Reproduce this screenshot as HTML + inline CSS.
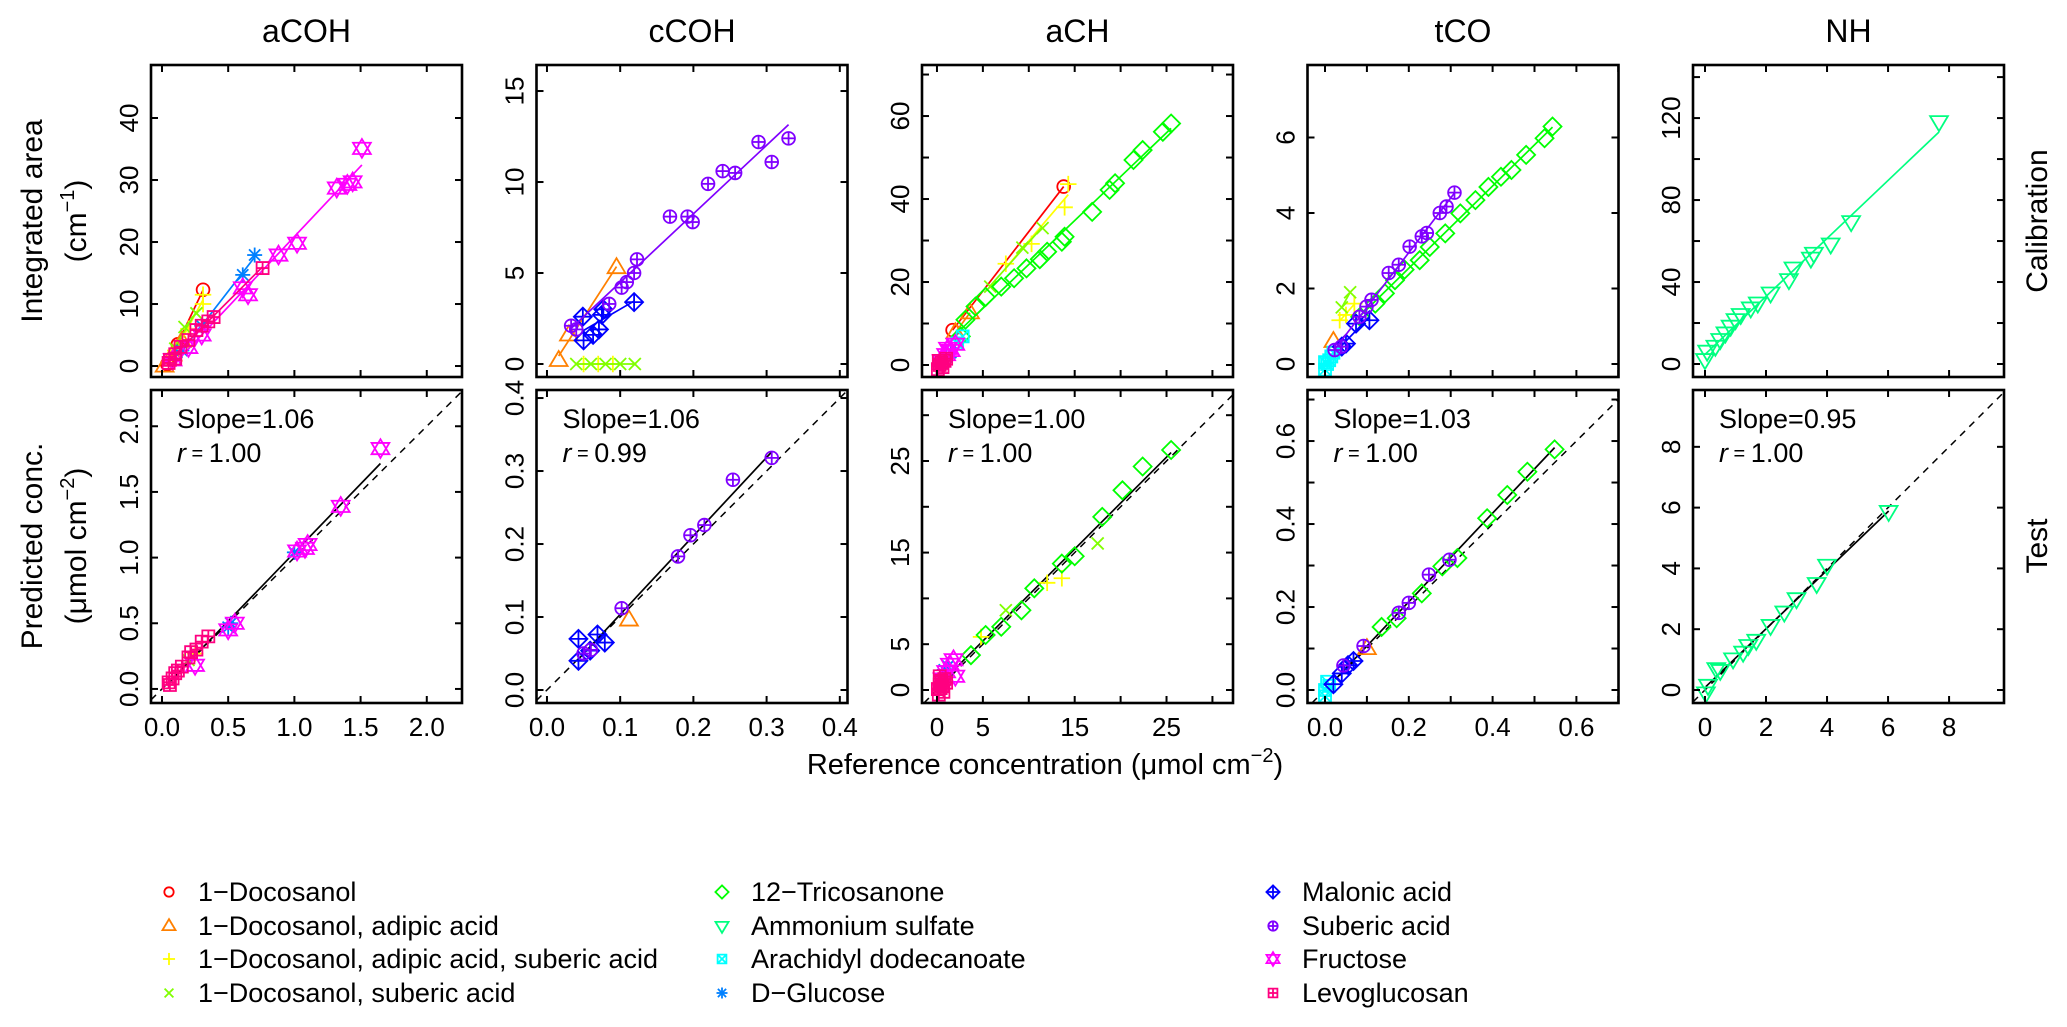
<!DOCTYPE html>
<html><head><meta charset="utf-8"><title>Calibration and test</title>
<style>
html,body{margin:0;padding:0;background:#fff;}
svg{display:block;font-family:"Liberation Sans",Arial,sans-serif;}
</style></head>
<body>
<svg id="fig" xmlns="http://www.w3.org/2000/svg" width="2067" height="1027" viewBox="0 0 2067 1027">
<rect x="0" y="0" width="2067" height="1027" fill="#fff"/>
</svg>
<script>
// ---------- series metadata ----------
const seriesNames = ["1\u2212Docosanol","1\u2212Docosanol, adipic acid","1\u2212Docosanol, adipic acid, suberic acid","1\u2212Docosanol, suberic acid","12\u2212Tricosanone","Ammonium sulfate","Arachidyl dodecanoate","D\u2212Glucose","Malonic acid","Suberic acid","Fructose","Levoglucosan"];
const seriesColors = ["#FF0000","#FF8000","#FFFF00","#80FF00","#00FF00","#00FF80","#00FFFF","#0080FF","#0000FF","#8000FF","#FF00FF","#FF0080"];
const columnTitles = ["aCOH","cCOH","aCH","tCO","NH"];
const slopeLabels = ["1.06","1.06","1.00","1.03","0.95"];
const rLabels = ["1.00","0.99","1.00","1.00","1.00"];

// ---------- axis ticks ----------
const xTicks = [[0,0.5,1,1.5,2],[0,0.1,0.2,0.3,0.4],[0,5,10,15,20,25,30],[0,0.1,0.2,0.3,0.4,0.5,0.6,0.7],[0,2,4,6,8]];
const xTickLabels = [["0.0","0.5","1.0","1.5","2.0"],["0.0","0.1","0.2","0.3","0.4"],["0","5","","15","","25",""],["0.0","","0.2","","0.4","","0.6",""],["0","2","4","6","8"]];
const calYTicks = [[0,10,20,30,40],[0,5,10,15],[0,10,20,30,40,50,60,70],[0,2,4,6],[0,20,40,60,80,100,120,140]];
const calYTickLabels = [["0","10","20","30","40"],["0","5","10","15"],["0","","20","","40","","60",""],["0","2","4","6"],["0","","40","","80","","120",""]];
const testYTicks = [[0,0.5,1,1.5,2],[0,0.1,0.2,0.3,0.4],[0,5,10,15,20,25,30],[0,0.1,0.2,0.3,0.4,0.5,0.6,0.7],[0,2,4,6,8]];
const testYTickLabels = [["0.0","0.5","1.0","1.5","2.0"],["0.0","0.1","0.2","0.3","0.4"],["0","5","","15","","25",""],["0.0","","0.2","","0.4","","0.6",""],["0","2","4","6","8"]];

// ---------- axis domains ----------
const xDomains = [[-0.083,2.266],[-0.0143,0.4105],[-1.63,32.24],[-0.0418,0.7005],[-0.393,9.80]];
const calYDomains = [[-1.77,48.55],[-0.714,16.43],[-2.89,72.3],[-0.344,7.92],[-6.34,145.9]];
const testYDomains = [[-0.107,2.276],[-0.0178,0.411],[-1.42,32.75],[-0.0313,0.723],[-0.428,9.87]];

// ---------- calibration data: aCOH ----------
const acohCalDocosanolX = [0.04,0.12,0.31];
const acohCalDocosanolY = [0.3,3.5,12.3];
const acohCalAdipicX = [0.02,0.08,0.15];
const acohCalAdipicY = [0.0,1.8,4.0];
const acohCalAdipSubX = [0.1,0.2,0.31,0.31];
const acohCalAdipSubY = [2.5,6.0,10.0,11.5];
const acohCalSubericMixX = [0.1,0.17,0.26];
const acohCalSubericMixY = [2.8,6.3,8.5];
const acohCalGlucoseX = [0.15,0.3,0.61,0.70];
const acohCalGlucoseY = [2.5,6.5,14.7,17.9];
const acohCalFructoseX = [0.08,0.2,0.3,0.61,0.65,0.88,1.02,1.32,1.40,1.44,1.51];
const acohCalFructoseY = [1.0,3.0,5.0,12.6,11.5,17.9,19.8,28.7,29.3,29.7,35.1];
const acohCalLevoX = [0.05,0.06,0.1,0.1,0.14,0.2,0.26,0.3,0.35,0.39,0.76];
const acohCalLevoY = [0.5,1.0,1.9,1.2,3.1,4.2,5.8,6.5,7.2,7.9,15.8];
// ---------- calibration data: cCOH ----------
const ccohCalAdipicX = [0.016,0.030,0.095];
const ccohCalAdipicY = [0.2,1.6,5.3];
const ccohCalAdipSubX = [0.05,0.07,0.09];
const ccohCalAdipSubY = [0,0,0];
const ccohCalSubericMixX = [0.04,0.06,0.08,0.10,0.12];
const ccohCalSubericMixY = [0,0,0,0,0];
const ccohCalMalonicX = [0.119,0.077,0.075,0.049,0.071,0.063,0.05];
const ccohCalMalonicY = [3.4,3.0,2.7,2.6,1.9,1.6,1.3];
const ccohCalSubericX = [0.033,0.040,0.085,0.102,0.109,0.119,0.123,0.168,0.192,0.199,0.220,0.240,0.257,0.289,0.307,0.330];
const ccohCalSubericY = [2.1,1.9,3.3,4.2,4.5,5.0,5.75,8.1,8.1,7.8,9.9,10.6,10.5,12.2,11.1,12.4];
// ---------- calibration data: aCH ----------
const achCalDocosanolX = [1.7,13.8];
const achCalDocosanolY = [8.4,43];
const achCalAdipicX = [2.0,3.6];
const achCalAdipicY = [7.8,12.6];
const achCalAdipSubX = [7.5,10.3,13.9,14.3];
const achCalAdipSubY = [24.4,29.2,38,43.6];
const achCalSubericMixX = [5.8,9.3,11.5];
const achCalSubericMixY = [18.9,28.3,33];
const achCalTricosanoneX = [2.6,3.1,4.2,5.3,7.0,8.4,9.75,11.2,12.0,13.6,13.9,16.9,18.8,19.4,21.4,22.4,24.6,25.5];
const achCalTricosanoneY = [6.9,10.9,14.1,16.4,18.9,20.9,23.3,25.5,27.3,29.7,30.9,36.9,42.2,43.8,49.4,51.8,56.2,58.2];
const achCalArachidylX = [2.2,2.8];
const achCalArachidylY = [5.2,6.9];
const achCalGlucoseX = [1.0,1.5];
const achCalGlucoseY = [2,3];
const achCalFructoseX = [0.5,1.0,1.2,1.5,2.0];
const achCalFructoseY = [1,2.5,4,3.5,5];
const achCalLevoX = [0.1,0.2,0.3,0.5,0.6,0.8,1.0];
const achCalLevoY = [-1,1.0,0,0.5,-0.5,1,1.5];
// ---------- calibration data: tCO ----------
const tcoCalAdipicX = [0.02];
const tcoCalAdipicY = [0.6];
const tcoCalAdipSubX = [0.035,0.05,0.07];
const tcoCalAdipSubY = [1.16,1.3,1.6];
const tcoCalSubericMixX = [0.04,0.06];
const tcoCalSubericMixY = [1.5,1.9];
const tcoCalTricosanoneX = [0.084,0.12,0.143,0.167,0.19,0.226,0.25,0.287,0.323,0.359,0.39,0.42,0.445,0.48,0.524,0.543];
const tcoCalTricosanoneY = [1.25,1.6,1.87,2.22,2.5,2.75,3.1,3.46,3.99,4.34,4.69,4.96,5.14,5.54,5.98,6.29];
const tcoCalArachidylX = [0.0,0.0,0.005,0.01,0.015,0.02];
const tcoCalArachidylY = [-0.15,0.05,0,0.1,0.2,0.3];
const tcoCalMalonicX = [0.04,0.05,0.074,0.106];
const tcoCalMalonicY = [0.46,0.54,1.07,1.16];
const tcoCalSubericX = [0.023,0.039,0.082,0.099,0.111,0.152,0.176,0.202,0.231,0.243,0.274,0.29,0.309];
const tcoCalSubericY = [0.37,0.46,1.25,1.52,1.7,2.41,2.63,3.11,3.38,3.47,4.0,4.17,4.54];
// ---------- calibration data: NH ----------
const nhCalAmmoniumX = [0.0,0.07,0.34,0.5,0.67,0.84,1.0,1.17,1.5,1.73,2.15,2.75,2.9,3.47,3.57,4.12,4.79,7.67];
const nhCalAmmoniumY = [2.1,6.2,8.6,11.9,15.1,18.4,21.6,24.1,27.3,29.7,34.6,41.1,46.8,51.6,54.0,58.5,69.4,118.2];

// ---------- test data: aCOH ----------
const acohTestAdipSubX = [0.25];
const acohTestAdipSubY = [0.27];
const acohTestSubericMixX = [0.2];
const acohTestSubericMixY = [0.22];
const acohTestGlucoseX = [0.5,0.52,1.0];
const acohTestGlucoseY = [0.47,0.5,1.04];
const acohTestFructoseX = [0.25,0.5,0.55,1.02,1.08,1.1,1.35,1.65];
const acohTestFructoseY = [0.18,0.45,0.5,1.05,1.07,1.1,1.39,1.83];
const acohTestLevoX = [0.05,0.06,0.08,0.1,0.12,0.15,0.2,0.22,0.26,0.3,0.35];
const acohTestLevoY = [0.05,0.03,0.08,0.12,0.14,0.17,0.24,0.28,0.3,0.36,0.4];
// ---------- test data: cCOH ----------
const ccohTestAdipicX = [0.112];
const ccohTestAdipicY = [0.096];
const ccohTestMalonicX = [0.043,0.043,0.059,0.069,0.079];
const ccohTestMalonicY = [0.070,0.040,0.054,0.076,0.065];
const ccohTestSubericX = [0.05,0.06,0.102,0.179,0.196,0.215,0.254,0.307];
const ccohTestSubericY = [0.05,0.055,0.112,0.183,0.212,0.226,0.288,0.318];
// ---------- test data: aCH ----------
const achTestAdipSubX = [4.8,12.0,13.6];
const achTestAdipSubY = [5.8,11.7,12.2];
const achTestSubericMixX = [7.5,17.5];
const achTestSubericMixY = [8.7,16.0];
const achTestTricosanoneX = [3.7,5.3,7.0,9.2,10.6,13.6,15.0,18.0,20.2,22.4,25.5];
const achTestTricosanoneY = [3.8,6.0,6.9,8.7,11.1,13.8,14.6,18.9,21.8,24.4,26.2];
const achTestGlucoseX = [0.8,1.2];
const achTestGlucoseY = [2.2,2.6];
const achTestFructoseX = [0.6,1.0,1.4,1.8,2.0];
const achTestFructoseY = [1.2,2.0,2.8,3.3,1.5];
const achTestLevoX = [0.1,0.2,0.3,0.4,0.5,0.6,0.8,1.0,0.3,0.7];
const achTestLevoY = [0.1,-0.5,0.6,0.2,1.0,0.4,1.2,0.8,1.5,-0.2];
// ---------- test data: tCO ----------
const tcoTestAdipicX = [0.1];
const tcoTestAdipicY = [0.1];
const tcoTestTricosanoneX = [0.135,0.171,0.231,0.28,0.316,0.387,0.435,0.483,0.548];
const tcoTestTricosanoneY = [0.152,0.173,0.233,0.298,0.318,0.414,0.47,0.526,0.58];
const tcoTestArachidylX = [0.0,0.005,0.01,0.0];
const tcoTestArachidylY = [0.0,0.02,0.01,-0.015];
const tcoTestMalonicX = [0.02,0.04,0.055,0.068];
const tcoTestMalonicY = [0.014,0.04,0.06,0.07];
const tcoTestSubericX = [0.044,0.092,0.176,0.20,0.248,0.297];
const tcoTestSubericY = [0.059,0.106,0.186,0.21,0.278,0.314];
// ---------- test data: NH ----------
const nhTestAmmoniumX = [0.03,0.1,0.37,0.5,0.92,1.25,1.42,1.68,2.15,2.6,3.0,3.66,4.0,6.02];
const nhTestAmmoniumY = [-0.1,0.15,0.7,0.64,1.02,1.24,1.46,1.63,2.12,2.56,3.0,3.5,4.1,5.87];

// ---------- registry: [series index, xs, ys] ----------
const calData = [
 [[0,acohCalDocosanolX,acohCalDocosanolY],[1,acohCalAdipicX,acohCalAdipicY],[2,acohCalAdipSubX,acohCalAdipSubY],[3,acohCalSubericMixX,acohCalSubericMixY],[7,acohCalGlucoseX,acohCalGlucoseY],[10,acohCalFructoseX,acohCalFructoseY],[11,acohCalLevoX,acohCalLevoY]],
 [[1,ccohCalAdipicX,ccohCalAdipicY],[2,ccohCalAdipSubX,ccohCalAdipSubY],[3,ccohCalSubericMixX,ccohCalSubericMixY],[8,ccohCalMalonicX,ccohCalMalonicY],[9,ccohCalSubericX,ccohCalSubericY]],
 [[0,achCalDocosanolX,achCalDocosanolY],[1,achCalAdipicX,achCalAdipicY],[2,achCalAdipSubX,achCalAdipSubY],[3,achCalSubericMixX,achCalSubericMixY],[4,achCalTricosanoneX,achCalTricosanoneY],[6,achCalArachidylX,achCalArachidylY],[7,achCalGlucoseX,achCalGlucoseY],[10,achCalFructoseX,achCalFructoseY],[11,achCalLevoX,achCalLevoY]],
 [[1,tcoCalAdipicX,tcoCalAdipicY],[2,tcoCalAdipSubX,tcoCalAdipSubY],[3,tcoCalSubericMixX,tcoCalSubericMixY],[4,tcoCalTricosanoneX,tcoCalTricosanoneY],[6,tcoCalArachidylX,tcoCalArachidylY],[8,tcoCalMalonicX,tcoCalMalonicY],[9,tcoCalSubericX,tcoCalSubericY]],
 [[5,nhCalAmmoniumX,nhCalAmmoniumY]]
];
const testData = [
 [[2,acohTestAdipSubX,acohTestAdipSubY],[3,acohTestSubericMixX,acohTestSubericMixY],[7,acohTestGlucoseX,acohTestGlucoseY],[10,acohTestFructoseX,acohTestFructoseY],[11,acohTestLevoX,acohTestLevoY]],
 [[1,ccohTestAdipicX,ccohTestAdipicY],[8,ccohTestMalonicX,ccohTestMalonicY],[9,ccohTestSubericX,ccohTestSubericY]],
 [[2,achTestAdipSubX,achTestAdipSubY],[3,achTestSubericMixX,achTestSubericMixY],[4,achTestTricosanoneX,achTestTricosanoneY],[7,achTestGlucoseX,achTestGlucoseY],[10,achTestFructoseX,achTestFructoseY],[11,achTestLevoX,achTestLevoY]],
 [[1,tcoTestAdipicX,tcoTestAdipicY],[4,tcoTestTricosanoneX,tcoTestTricosanoneY],[6,tcoTestArachidylX,tcoTestArachidylY],[8,tcoTestMalonicX,tcoTestMalonicY],[9,tcoTestSubericX,tcoTestSubericY]],
 [[5,nhTestAmmoniumX,nhTestAmmoniumY]]
];

// ---------- layout ----------
const NS = "http://www.w3.org/2000/svg";
const svg = document.getElementById("fig");
const colLeft = [151,536.5,922,1307.5,1693];
const PW = 311;
const rowTop = [65,390];
const rowBottom = [377,703];

function mk(tag, attrs, parent){
  const e = document.createElementNS(NS, tag);
  for (const k in attrs) e.setAttribute(k, attrs[k]);
  (parent||svg).appendChild(e);
  return e;
}
function scale(d, a, b){ return v => a + (v - d[0]) / (d[1] - d[0]) * (b - a); }

function marker(g, pch, cx, cy, col, r){
  const st = {fill:"none", stroke:col, "stroke-width":1.8};
  const line = (x1,y1,x2,y2) => mk("line", Object.assign({x1:cx+x1,y1:cy+y1,x2:cx+x2,y2:cy+y2}, st), g);
  const poly = pts => mk("polygon", Object.assign({points: pts.map(p => (cx+p[0])+","+(cy+p[1])).join(" ")}, st), g);
  const t = r*1.25;
  switch(pch){
    case 1: mk("circle", Object.assign({cx:cx, cy:cy, r:r*0.85}, st), g); break;
    case 2: poly([[0,-t],[t*0.95,t*0.6],[-t*0.95,t*0.6]]); break;
    case 3: line(-r*1.1,0,r*1.1,0); line(0,-r*1.1,0,r*1.1); break;
    case 4: line(-r*0.8,-r*0.8,r*0.8,r*0.8); line(-r*0.8,r*0.8,r*0.8,-r*0.8); break;
    case 5: poly([[0,-r*1.2],[r*1.2,0],[0,r*1.2],[-r*1.2,0]]); break;
    case 6: poly([[0,t],[t*0.95,-t*0.6],[-t*0.95,-t*0.6]]); break;
    case 7: poly([[-r*0.8,-r*0.8],[r*0.8,-r*0.8],[r*0.8,r*0.8],[-r*0.8,r*0.8]]); line(-r*0.8,-r*0.8,r*0.8,r*0.8); line(-r*0.8,r*0.8,r*0.8,-r*0.8); break;
    case 8: line(-r,0,r,0); line(0,-r,0,r); line(-r*0.75,-r*0.75,r*0.75,r*0.75); line(-r*0.75,r*0.75,r*0.75,-r*0.75); break;
    case 9: poly([[0,-r*1.2],[r*1.2,0],[0,r*1.2],[-r*1.2,0]]); line(-r*1.2,0,r*1.2,0); line(0,-r*1.2,0,r*1.2); break;
    case 10: mk("circle", Object.assign({cx:cx, cy:cy, r:r*0.85}, st), g); line(-r*0.85,0,r*0.85,0); line(0,-r*0.85,0,r*0.85); break;
    case 11: poly([[0,-t],[t*0.95,t*0.6],[-t*0.95,t*0.6]]); poly([[0,t],[t*0.95,-t*0.6],[-t*0.95,-t*0.6]]); break;
    case 12: poly([[-r*0.8,-r*0.8],[r*0.8,-r*0.8],[r*0.8,r*0.8],[-r*0.8,r*0.8]]); line(-r*0.8,0,r*0.8,0); line(0,-r*0.8,0,r*0.8); break;
  }
}
function fit(xs, ys){
  const n = xs.length; let mx=0,my=0; for(let i=0;i<n;i++){mx+=xs[i];my+=ys[i];} mx/=n; my/=n;
  let sxy=0,sxx=0; for(let i=0;i<n;i++){sxy+=(xs[i]-mx)*(ys[i]-my); sxx+=(xs[i]-mx)*(xs[i]-mx);}
  const b = sxx>0 ? sxy/sxx : 0; return [my - b*mx, b];
}

// column titles
columnTitles.forEach((t,c) => {
  const e = mk("text", {x: colLeft[c]+PW/2, y: 42, "text-anchor":"middle", "font-size":32, fill:"#000"});
  
  
  e.textContent = t;
});

for (let row=0; row<2; row++){
  for (let c=0; c<5; c++){
    const L = colLeft[c], R = L+PW, T = rowTop[row], B = rowBottom[row];
    const xs = scale(xDomains[c], L, R);
    const yd = row===0 ? calYDomains[c] : testYDomains[c];
    const ys = scale(yd, B, T);
    const g = mk("g", {});
    
    
    const cid = "clip"+row+"_"+c;
    const cp = mk("clipPath", {id:cid}, g);
    mk("rect", {x:L, y:T, width:PW, height:B-T}, cp);
    const plot = mk("g", {"clip-path":"url(#"+cid+")"}, g);
    const data = row===0 ? calData[c] : testData[c];

    if (row===1){
      const lo = Math.max(xDomains[c][0], yd[0]), hi = Math.min(xDomains[c][1], yd[1]);
      const dl = mk("line", {x1:xs(lo), y1:ys(lo), x2:xs(hi*1.1), y2:ys(hi*1.1), stroke:"#000", "stroke-width":1.5, "stroke-dasharray":"7,6"}, plot);
      
      
      let ax=[], ay=[];
      data.forEach(s => { ax = ax.concat(s[1]); ay = ay.concat(s[2]); });
      const f = fit(ax, ay);
      const x0 = Math.min.apply(null, ax), x1 = Math.max.apply(null, ax);
      const rl = mk("line", {x1:xs(x0), y1:ys(f[0]+f[1]*x0), x2:xs(x1), y2:ys(f[0]+f[1]*x1), stroke:"#000", "stroke-width":1.7}, plot);
      
      
    }
    data.forEach(s => {
      const idx = s[0], X = s[1], Y = s[2], col = seriesColors[idx];
      const sg = mk("g", {}, plot);
      
      
      if (row===0 && X.length > 1){
        const f = fit(X, Y);
        const x0 = Math.min.apply(null, X), x1 = Math.max.apply(null, X);
        const fl = mk("line", {x1:xs(x0), y1:ys(f[0]+f[1]*x0), x2:xs(x1), y2:ys(f[0]+f[1]*x1), stroke:col, "stroke-width":1.7}, sg);
        
        
      }
      for (let i=0;i<X.length;i++){
        const pg = mk("g", {}, sg);
        
        
        marker(pg, idx+1, xs(X[i]), ys(Y[i]), col, 7.5);
      }
    });

    // frame
    const fr = mk("rect", {x:L, y:T, width:PW, height:B-T, fill:"none", stroke:"#000", "stroke-width":2.6}, g);
    
    
    xTicks[c].forEach((v,i) => {
      const px = xs(v);
      mk("line", {x1:px, y1:B, x2:px, y2:B-7, stroke:"#000", "stroke-width":2}, g);
      mk("line", {x1:px, y1:T, x2:px, y2:T+7, stroke:"#000", "stroke-width":2}, g);
      if (row===1 && xTickLabels[c][i] !== ""){
        const tl = mk("text", {x:px, y:736, "text-anchor":"middle", "font-size":26, fill:"#000"}, g);
        
        
        tl.textContent = xTickLabels[c][i];
      }
    });
    const yt = row===0 ? calYTicks[c] : testYTicks[c];
    const ytl = row===0 ? calYTickLabels[c] : testYTickLabels[c];
    yt.forEach((v,i) => {
      const py = ys(v);
      if (py < T-1 || py > B+1) return;
      mk("line", {x1:L, y1:py, x2:L+7, y2:py, stroke:"#000", "stroke-width":2}, g);
      mk("line", {x1:R, y1:py, x2:R-7, y2:py, stroke:"#000", "stroke-width":2}, g);
      if (ytl[i] !== ""){
        const tl = mk("text", {x:0, y:0, "text-anchor":"middle", "font-size":26, fill:"#000", transform:"translate("+(L-13)+","+py+") rotate(-90)"}, g);
        
        
        tl.textContent = ytl[i];
      }
    });
    if (row===1){
      const s1 = mk("text", {x:L+26, y:428, "font-size":27, fill:"#000"}, g);
      
      
      s1.textContent = "Slope=" + slopeLabels[c];
      const s2 = mk("text", {x:L+26, y:462, "font-size":27, fill:"#000"}, g);
      
      
      s2.innerHTML = '<tspan font-style="italic">r</tspan><tspan font-size="20" dy="-2"> = </tspan><tspan dy="2">' + rLabels[c] + '</tspan>';
    }
  }
}

// axis titles
function vtext(name, x, y, size, html, rot){
  const e = mk("text", {x:0, y:0, "text-anchor":"middle", "font-size":size, fill:"#000", transform:"translate("+x+","+y+") rotate("+rot+")"});
  
  
  e.innerHTML = html;
}
vtext('y-axis-title-calibration', 42, 221, 30, 'Integrated area', -90);
vtext('y-axis-title-calibration-units', 86, 221, 30, '(cm<tspan font-size="20" dy="-12">\u22121</tspan><tspan dy="12">)</tspan>', -90);
vtext('y-axis-title-test', 42, 546, 30, 'Predicted conc.', -90);
vtext('y-axis-title-test-units', 86, 546, 30, '(\u03bcmol cm<tspan font-size="20" dy="-12">\u22122</tspan><tspan dy="12">)</tspan>', -90);
vtext('row-label-calibration', 2047, 221, 30, 'Calibration', -90);
vtext('row-label-test', 2047, 546, 30, 'Test', -90);
const xt = mk("text", {x:1045, y:774, "text-anchor":"middle", "font-size":29, fill:"#000"});


xt.innerHTML = 'Reference concentration (\u03bcmol cm<tspan font-size="20" dy="-12">\u22122</tspan><tspan dy="12">)</tspan>';

// legend
const legX = [169,722,1273];
const legY = [892,926,959,993];
const legend = mk("g", {});


seriesNames.forEach((n,i) => {
  const col = Math.floor(i/4), r = i%4;
  const eg = mk("g", {}, legend);
  
  
  marker(eg, i+1, legX[col], legY[r], seriesColors[i], 5.5);
  const t = mk("text", {x:legX[col]+29, y:legY[r]+9, "font-size":27, fill:"#000"}, eg);
  t.textContent = n;
});
</script>
</body></html>
